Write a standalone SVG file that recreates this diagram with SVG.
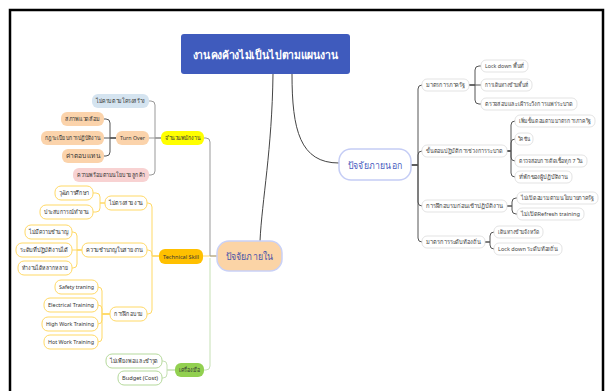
<svg xmlns="http://www.w3.org/2000/svg" width="606" height="391" viewBox="0 0 606 391">
<style>
text{font-family:"Noto Sans","Liberation Sans",sans-serif;text-anchor:middle;dominant-baseline:central}
.s{font-size:6px;fill:#333}
.r{font-size:5.8px;fill:#444}
.rn{fill:#fff;stroke:#dcdcdc;stroke-width:0.8}
.tn{fill:#fff;stroke:#ffd966;stroke-width:1}
.gn{fill:#fff;stroke:#b5d99c;stroke-width:1}
.pe{fill:#fbd3ab;stroke:none}
.c{fill:none;stroke-width:1}
.cg{stroke:#999}
.cd{stroke:#555}
.cy{stroke:#ffd966}
.cgr{stroke:#c5e0b4}
</style>
<rect x="10" y="10" width="593" height="390" fill="#fff" stroke="#000" stroke-width="2.5"/>

<g id="connectors">
<path class="c" stroke="#444" stroke-width="1.3" d="M273 74 C272 150 262 200 260 241"/>
<path class="c" stroke="#444" stroke-width="1.3" d="M292 74 C292 130 300 163 339 163"/>
<path class="c cd" d="M411 165 H418 V89 Q418 85 422 85"/>
<path class="c cd" d="M411 165 H418 V155 Q418 151 422 151"/>
<path class="c cd" d="M411 165 H418 V202 Q418 206 422 206"/>
<path class="c cd" d="M411 165 H418 V238 Q418 242 422 242"/>
<path class="c cd" d="M469 85 H475 V70 Q475 66 479 66 H481"/>
<path class="c cd" d="M469 85 H481"/>
<path class="c cd" d="M469 85 H475 V100 Q475 104 479 104 H481"/>
<path class="c cd" d="M507 151 H511 V125 Q511 121 515 121"/>
<path class="c cd" d="M507 151 H511 V143 Q511 139 515 139"/>
<path class="c cd" d="M507 151 H511 V157 Q511 161 515 161"/>
<path class="c cd" d="M507 151 H511 V173 Q511 177 515 177"/>
<path class="c cd" d="M507 206 H512 V202 Q512 198 516 198 H517"/>
<path class="c cd" d="M507 206 H512 V210 Q512 214 516 214 H517"/>
<path class="c cd" d="M485 242 H490 V236 Q490 232 494 232"/>
<path class="c cd" d="M485 242 H490 V245 Q490 249 494 249"/>
<path class="c cy" d="M217 256 H203"/>
<path class="c cg" d="M217 256 H210 V142 Q210 138 206 138 H204"/>
<path class="c cgr" d="M210 258 V366 Q210 370 206 370 H204"/>
<path class="c cg" d="M161 138 H155 V105 Q155 101 151 101 H149"/>
<path class="c cg" d="M161 138 H149"/>
<path class="c cg" d="M161 138 H155 V171 Q155 175 151 175 H149"/>
<path class="c cd" d="M116 138 H110 V123 Q110 119 106 119 H104"/>
<path class="c cd" d="M116 138 H104"/>
<path class="c cd" d="M116 138 H110 V152 Q110 156 106 156 H104"/>
<path class="c cy" d="M159 256 H152 V207 Q152 203 148 203 H147"/>
<path class="c cy" d="M159 256 H152 V254 Q152 250 148 250 H147"/>
<path class="c cy" d="M159 256 H152 V310 Q152 314 148 314 H147"/>
<path class="c cy" d="M105 203 H100 V197 Q100 193 96 193 H93"/>
<path class="c cy" d="M105 203 H100 V208 Q100 212 96 212 H93"/>
<path class="c cy" d="M82 250 H77 V236 Q77 232 73 232 H72"/>
<path class="c cy" d="M82 250 H72"/>
<path class="c cy" d="M82 250 H77 V264 Q77 268 73 268 H72"/>
<path class="c cy" d="M110 314 H102 V291 Q102 287 98 287"/>
<path class="c cy" d="M110 314 H102 V309 Q102 305 98 305"/>
<path class="c cy" d="M110 314 H102 V320 Q102 324 98 324"/>
<path class="c cy" d="M110 314 H102 V338 Q102 342 98 342"/>
<path class="c cgr" d="M175 370 H167 V365 Q167 361 163 361 H162"/>
<path class="c cgr" d="M175 370 H167 V374 Q167 378 163 378 H162"/>
</g>

<g id="title"><rect x="181" y="34" width="169" height="40" rx="3" fill="#3f5bbd"/><text x="265.5" y="54" font-size="11" font-weight="bold" fill="#fff" textLength="146" lengthAdjust="spacingAndGlyphs">งานคงค้างไม่เป็นไปตามแผนงาน</text></g>

<g id="inner"><rect x="217" y="241" width="65" height="30" rx="12" fill="#fbd4a6" stroke="#c9d1f7" stroke-width="1.5"/><text x="249.5" y="256" font-size="10" fill="#4b55a8" textLength="48" lengthAdjust="spacingAndGlyphs">ปัจจัยภายใน</text></g>
<g id="outer"><rect x="339" y="149" width="72" height="31" rx="12" fill="#fff" stroke="#c5cdf5" stroke-width="1.5"/><text x="375" y="164.5" font-size="10" fill="#4a5cc0" textLength="54" lengthAdjust="spacingAndGlyphs">ปัจจัยภายนอก</text></g>

<g id="r1"><rect class="rn" x="422" y="79" width="47" height="12" rx="5"/><text class="r" x="445.5" y="85" textLength="39" lengthAdjust="spacingAndGlyphs">มาตรการภาครัฐ</text></g>
<g id="r1a"><rect class="rn" x="481" y="60" width="47" height="12" rx="5"/><text class="r" x="504.5" y="66" textLength="39" lengthAdjust="spacingAndGlyphs">Lock down พื้นที่</text></g>
<g id="r1b"><rect class="rn" x="481" y="79" width="51" height="12" rx="5"/><text class="r" x="506.5" y="85" textLength="43" lengthAdjust="spacingAndGlyphs">การเดินทางข้ามพื้นที่</text></g>
<g id="r1c"><rect class="rn" x="481" y="98" width="96" height="12" rx="5"/><text class="r" x="529" y="104" textLength="88" lengthAdjust="spacingAndGlyphs">ตรวจสอบและเฝ้าระวังการแพร่ระบาด</text></g>
<g id="r2"><rect class="rn" x="422" y="145" width="85" height="12" rx="5"/><text class="r" x="464.5" y="151" textLength="77" lengthAdjust="spacingAndGlyphs">ขั้นตอนปฏิบัติการช่วงการระบาด</text></g>
<g id="r2a"><rect class="rn" x="515" y="115" width="80" height="12" rx="5"/><text class="r" x="555" y="121" textLength="72" lengthAdjust="spacingAndGlyphs">เพิ่มขั้นตอนตามมาตรการภาครัฐ</text></g>
<g id="r2b"><rect class="rn" x="515" y="133" width="18" height="12" rx="5"/><text class="r" x="524" y="139" textLength="12" lengthAdjust="spacingAndGlyphs">วัคซีน</text></g>
<g id="r2c"><rect class="rn" x="515" y="155" width="72" height="12" rx="5"/><text class="r" x="551" y="161" textLength="64" lengthAdjust="spacingAndGlyphs">ตรวจสอบการติดเชื้อทุก 7 วัน</text></g>
<g id="r2d"><rect class="rn" x="515" y="171" width="57" height="12" rx="5"/><text class="r" x="543.5" y="177" textLength="49" lengthAdjust="spacingAndGlyphs">ที่พักของผู้ปฏิบัติงาน</text></g>
<g id="r3"><rect class="rn" x="422" y="200" width="85" height="12" rx="5"/><text class="r" x="464.5" y="206" textLength="77" lengthAdjust="spacingAndGlyphs">การฝึกอบรมก่อนเข้าปฏิบัติงาน</text></g>
<g id="r3a"><rect class="rn" x="517" y="192" width="81" height="12" rx="5"/><text class="r" x="557.5" y="198" textLength="73" lengthAdjust="spacingAndGlyphs">ไม่เปิดอบรมตามนโยบายภาครัฐ</text></g>
<g id="r3b"><rect class="rn" x="517" y="208" width="67" height="12" rx="5"/><text class="r" x="550.5" y="214" textLength="59" lengthAdjust="spacingAndGlyphs">ไม่เปิดRefresh training</text></g>
<g id="r4"><rect class="rn" x="422" y="236" width="63" height="12" rx="5"/><text class="r" x="453.5" y="242" textLength="55" lengthAdjust="spacingAndGlyphs">มาตรการระดับท้องถิ่น</text></g>
<g id="r4a"><rect class="rn" x="494" y="226" width="49" height="12" rx="5"/><text class="r" x="518.5" y="232" textLength="41" lengthAdjust="spacingAndGlyphs">เดินทางข้ามจังหวัด</text></g>
<g id="r4b"><rect class="rn" x="494" y="243" width="68" height="12" rx="5"/><text class="r" x="528" y="249" textLength="60" lengthAdjust="spacingAndGlyphs">Lock down ระดับท้องถิ่น</text></g>

<g id="l1"><rect x="161" y="131" width="43" height="14" rx="6" fill="#ffff00"/><text class="s" x="182.5" y="138" textLength="35" lengthAdjust="spacingAndGlyphs">จำนวนพนักงาน</text></g>
<g id="l1a"><rect x="92" y="94" width="57" height="14" rx="6" fill="#d5e4f0"/><text class="s" x="120.5" y="101" textLength="49" lengthAdjust="spacingAndGlyphs">ไม่ครบตามโครงสร้าง</text></g>
<g id="l1b"><rect class="pe" x="116" y="131" width="33" height="14" rx="6"/><text class="s" x="132.5" y="138" textLength="25" lengthAdjust="spacingAndGlyphs">Turn Over</text></g>
<g id="l1c"><rect x="73" y="168" width="76" height="14" rx="6" fill="#f8d2d2"/><text class="s" x="111" y="175" textLength="68" lengthAdjust="spacingAndGlyphs">ความพร้อมตามนโยบายลูกค้า</text></g>
<g id="l1b1"><rect class="pe" x="61" y="112" width="43" height="14" rx="6"/><text class="s" x="82.5" y="119" textLength="35" lengthAdjust="spacingAndGlyphs">สภาพแวดล้อม</text></g>
<g id="l1b2"><rect class="pe" x="41" y="131" width="63" height="14" rx="6"/><text class="s" x="72.5" y="138" textLength="55" lengthAdjust="spacingAndGlyphs">กฎระเบียบการปฏิบัติงาน</text></g>
<g id="l1b3"><rect class="pe" x="62" y="149" width="42" height="14" rx="6"/><text class="s" x="83" y="156" textLength="34" lengthAdjust="spacingAndGlyphs">ค่าตอบแทน</text></g>

<g id="l2"><rect x="159" y="249" width="44" height="15" rx="6" fill="#ffc000"/><text class="s" x="181" y="256.5" textLength="36" lengthAdjust="spacingAndGlyphs">Technical Skill</text></g>
<g id="l2a"><rect class="tn" x="105" y="196" width="42" height="14" rx="6"/><text class="s" x="126" y="203" textLength="34" lengthAdjust="spacingAndGlyphs">ไม่ตรงสายงาน</text></g>
<g id="l2a1"><rect class="tn" x="55" y="186" width="38" height="14" rx="6"/><text class="s" x="74" y="193" textLength="30" lengthAdjust="spacingAndGlyphs">วุฒิการศึกษา</text></g>
<g id="l2a2"><rect class="tn" x="40" y="205" width="53" height="14" rx="6"/><text class="s" x="66.5" y="212" textLength="45" lengthAdjust="spacingAndGlyphs">ประสบการณ์ทำงาน</text></g>
<g id="l2b"><rect class="tn" x="82" y="243" width="65" height="14" rx="6"/><text class="s" x="114.5" y="250" textLength="57" lengthAdjust="spacingAndGlyphs">ความชำนาญในสายงาน</text></g>
<g id="l2b1"><rect class="tn" x="25" y="225" width="47" height="14" rx="6"/><text class="s" x="48.5" y="232" textLength="39" lengthAdjust="spacingAndGlyphs">ไม่มีความชำนาญ</text></g>
<g id="l2b2"><rect class="tn" x="16" y="243" width="56" height="14" rx="6"/><text class="s" x="44" y="250" textLength="48" lengthAdjust="spacingAndGlyphs">ระดับที่ปฏิบัติงานได้</text></g>
<g id="l2b3"><rect class="tn" x="18" y="261" width="54" height="14" rx="6"/><text class="s" x="45" y="268" textLength="46" lengthAdjust="spacingAndGlyphs">ทำงานได้หลากหลาย</text></g>
<g id="l2c"><rect class="tn" x="110" y="307" width="37" height="14" rx="6"/><text class="s" x="128.5" y="314" textLength="29" lengthAdjust="spacingAndGlyphs">การฝึกอบรม</text></g>
<g id="l2c1"><rect class="tn" x="55" y="280" width="43" height="14" rx="6"/><text class="s" x="76.5" y="287" textLength="35" lengthAdjust="spacingAndGlyphs">Safety traning</text></g>
<g id="l2c2"><rect class="tn" x="44" y="298" width="54" height="14" rx="6"/><text class="s" x="71" y="305" textLength="46" lengthAdjust="spacingAndGlyphs">Electrical Training</text></g>
<g id="l2c3"><rect class="tn" x="42" y="317" width="56" height="14" rx="6"/><text class="s" x="70" y="324" textLength="48" lengthAdjust="spacingAndGlyphs">High Work Training</text></g>
<g id="l2c4"><rect class="tn" x="44" y="335" width="54" height="14" rx="6"/><text class="s" x="71" y="342" textLength="46" lengthAdjust="spacingAndGlyphs">Hot Work Training</text></g>

<g id="l3"><rect x="175" y="363" width="29" height="14" rx="6" fill="#92d050"/><text class="s" x="189.5" y="370" textLength="21" lengthAdjust="spacingAndGlyphs">เครื่องมือ</text></g>
<g id="l3a"><rect class="gn" x="106" y="354" width="56" height="14" rx="6"/><text class="s" x="134" y="361" textLength="48" lengthAdjust="spacingAndGlyphs">ไม่เพียงพอและชำรุด</text></g>
<g id="l3b"><rect class="gn" x="118" y="371" width="44" height="14" rx="6"/><text class="s" x="140" y="378" textLength="36" lengthAdjust="spacingAndGlyphs">Budget (Cost)</text></g>
</svg>
